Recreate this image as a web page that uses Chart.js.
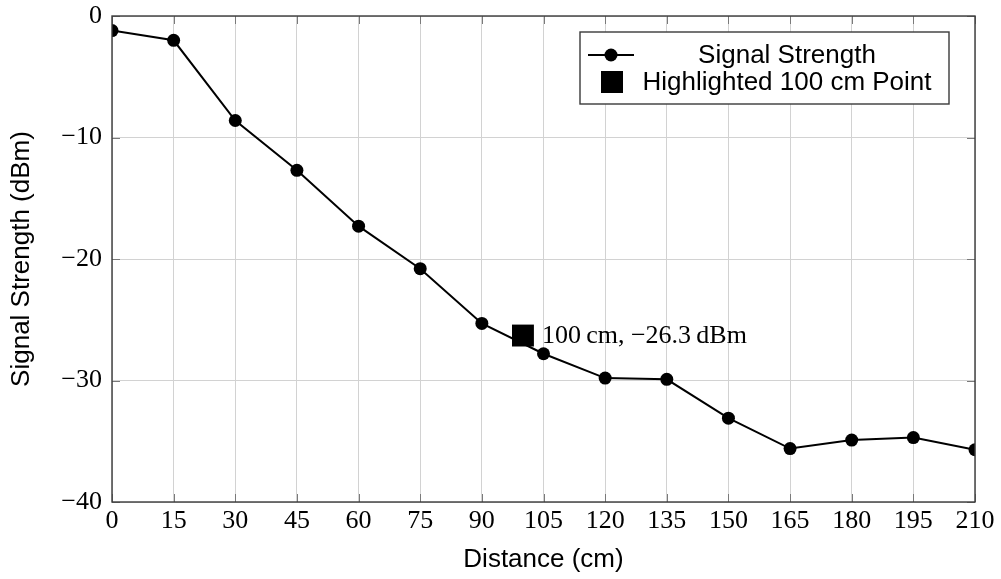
<!DOCTYPE html>
<html>
<head>
<meta charset="utf-8">
<script src="https://cdn.jsdelivr.net/npm/chart.js@4"></script>
<style>
html,body{margin:0;padding:0;background:#fff;}
#wrap{width:1001px;height:579px;position:relative;}
</style>
</head>
<body>
<div id="wrap"><canvas id="c" width="1001" height="579"></canvas></div>
<script>
const distances = [0, 15, 30, 45, 60, 75, 90, 105, 120, 135, 150, 165, 180, 195, 210];
const signal = [-1.2, -2.0, -8.6, -12.7, -17.3, -20.8, -25.3, -27.8, -29.8, -29.9, -33.1, -35.6, -34.9, -34.7, -35.7];
const highlightX = [100];
const highlightY = [-26.3];
const highlightLabel = ['100\u2009cm, \u221226.3\u2009dBm'];
const seriesNames = ['Signal Strength', 'Highlighted 100 cm Point'];
const xAxisTitle = 'Distance (cm)';
const yAxisTitle = 'Signal Strength (dBm)';

const SERIF = '"Liberation Serif", "DejaVu Serif", serif';
const SANS = '"Liberation Sans", Arial, sans-serif';

const framePlugin = {
  id: 'frame',
  afterDatasetsDraw(chart) {
    const {ctx, chartArea: a, scales: {x, y}} = chart;
    ctx.save();
    ctx.strokeStyle = '#7a7a7a';
    ctx.lineWidth = 1;
    const tl = 8;
    x.ticks.forEach(t => {
      const px = Math.round(x.getPixelForValue(t.value)) + 0.5;
      ctx.beginPath();
      ctx.moveTo(px, a.bottom); ctx.lineTo(px, a.bottom - tl);
      ctx.moveTo(px, a.top); ctx.lineTo(px, a.top + tl);
      ctx.stroke();
    });
    y.ticks.forEach(t => {
      const py = Math.round(y.getPixelForValue(t.value)) + 0.5;
      ctx.beginPath();
      ctx.moveTo(a.left, py); ctx.lineTo(a.left + tl, py);
      ctx.moveTo(a.right, py); ctx.lineTo(a.right - tl, py);
      ctx.stroke();
    });
    ctx.strokeStyle = '#3a3a3a';
    ctx.lineWidth = 1.4;
    ctx.strokeRect(a.left, a.top, a.right - a.left, a.bottom - a.top);

    ctx.fillStyle = '#000';
    ctx.font = '26px ' + SERIF;
    ctx.textAlign = 'left';
    ctx.textBaseline = 'middle';
    highlightX.forEach((hx, i) => {
      const px = x.getPixelForValue(hx);
      const py = y.getPixelForValue(highlightY[i]);
      ctx.fillText(highlightLabel[i], px + 19, py + 1);
    });

    // legend
    const lx = a.left + 468, ly = a.top + 16, lw = 369, lh = 72;
    ctx.fillStyle = '#fff';
    ctx.fillRect(lx, ly, lw, lh);
    ctx.strokeStyle = '#3a3a3a';
    ctx.lineWidth = 1.4;
    ctx.strokeRect(lx, ly, lw, lh);
    const r1 = ly + 23, r2 = ly + 50;
    ctx.strokeStyle = '#000';
    ctx.lineWidth = 2;
    ctx.beginPath(); ctx.moveTo(lx + 8, r1); ctx.lineTo(lx + 54, r1); ctx.stroke();
    ctx.fillStyle = '#000';
    ctx.beginPath(); ctx.arc(lx + 31, r1, 6.5, 0, Math.PI * 2); ctx.fill();
    ctx.fillRect(lx + 21, r2 - 11, 22, 22);
    ctx.font = '26px ' + SANS;
    ctx.textAlign = 'center';
    ctx.textBaseline = 'middle';
    ctx.fillText(seriesNames[0], lx + 207, r1 + 1);
    ctx.fillText(seriesNames[1], lx + 207, r2 + 1);
    ctx.restore();
  }
};

new Chart(document.getElementById('c'), {
  type: 'scatter',
  data: {
    datasets: [
      {
        label: seriesNames[0],
        data: distances.map((d, i) => ({x: d, y: signal[i]})),
        showLine: true,
        borderColor: '#000',
        backgroundColor: '#000',
        borderWidth: 2,
        pointRadius: 6.5,
        pointHoverRadius: 6.5,
        pointBorderWidth: 0,
        order: 2
      },
      {
        label: seriesNames[1],
        data: highlightX.map((d, i) => ({x: d, y: highlightY[i]})),
        showLine: false,
        pointStyle: 'rect',
        pointRadius: 15.5,
        pointHoverRadius: 15.5,
        borderWidth: 0,
        pointBorderWidth: 0,
        backgroundColor: '#000',
        borderColor: '#000',
        order: 1
      }
    ]
  },
  options: {
    responsive: false,
    animation: false,
    events: [],
    layout: {padding: {top: 16, right: 26, left: 0, bottom: 0}},
    plugins: {legend: {display: false}, tooltip: {enabled: false}},
    scales: {
      x: {
        type: 'linear',
        min: 0, max: 210,
        afterFit(s) { s.height = 77; s.paddingLeft = 0; s.paddingRight = 0; },
        afterBuildTicks(s) { s.ticks = distances.map(v => ({value: v})); },
        ticks: {
          stepSize: 15,
          font: {family: SERIF, size: 26},
          color: '#000',
          padding: 4,
          maxRotation: 0,
          autoSkip: false,
          callback: v => String(v)
        },
        grid: {color: '#d2d2d2', lineWidth: 1, drawTicks: false},
        border: {display: false},
        title: {display: true, text: xAxisTitle, font: {family: SANS, size: 26}, color: '#000', padding: 4}
      },
      y: {
        type: 'linear',
        min: -40, max: 0,
        afterFit(s) { s.width = 112; s.paddingTop = 0; s.paddingBottom = 0; },
        ticks: {
          stepSize: 10,
          font: {family: SERIF, size: 26},
          color: '#000',
          padding: 10,
          callback: v => String(v).replace('-', '\u2212')
        },
        grid: {color: '#d2d2d2', lineWidth: 1, drawTicks: false},
        border: {display: false},
        title: {display: true, text: yAxisTitle, font: {family: SANS, size: 26}, color: '#000', padding: 6}
      }
    }
  },
  plugins: [framePlugin]
});
</script>
</body>
</html>
